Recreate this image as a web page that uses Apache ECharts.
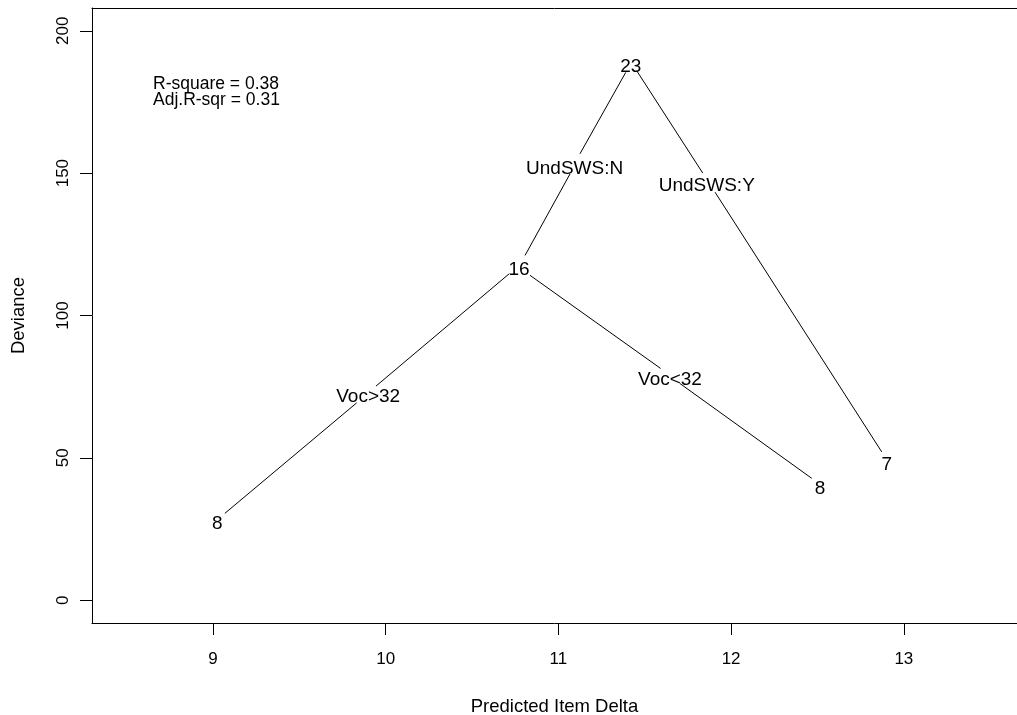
<!DOCTYPE html>
<html>
<head>
<meta charset="utf-8">
<script src="https://cdn.jsdelivr.net/npm/echarts@6/dist/echarts.min.js"></script>
<style>
html,body{margin:0;padding:0;background:#fff;}
#chart{width:1017px;height:715px;}
</style>
</head>
<body>
<div id="chart"></div>
<script>
// ---- data ----
const xTicks = [9, 10, 11, 12, 13];
const yTicks = [0, 50, 100, 150, 200];

// tree nodes (predicted delta, deviance, label = n)
const nodeX = [11.419, 10.772, 9.025, 12.515, 12.901];
const nodeY = [187.4, 116.1, 27.0, 39.3, 47.7];
const nodeLabels = ['23', '16', '8', '8', '7'];

// split labels
const splitX = [11.094, 11.859, 9.899, 11.646];
const splitY = [151.7, 145.4, 71.4, 77.5];
const splitLabels = ['UndSWS:N', 'UndSWS:Y', 'Voc>32', 'Voc<32'];

// edge segments (start x,y -> end x,y)
const segX1 = [11.390, 11.067, 11.453, 11.907, 10.716, 9.832, 10.836, 11.704];
const segY1 = [185.4, 149.7, 186.0, 143.3, 114.7, 69.3, 114.1, 76.1];
const segX2 = [11.125, 10.807, 11.836, 12.872, 9.944, 9.069, 11.592, 12.467];
const segY2 = [156.8, 121.1, 150.0, 52.1, 75.2, 30.5, 81.4, 42.8];

const annotation = ['R-square = 0.38', 'Adj.R-sqr = 0.31'];
const xTitle = 'Predicted Item Delta';
const yTitle = 'Deviance';

// ---- chart ----
const FONT = "'Liberation Sans', Arial, Helvetica, sans-serif";
const chart = echarts.init(document.getElementById('chart'), null, {renderer: 'canvas'});

const segData = segX1.map((x, i) => ({coords: [[x, segY1[i]], [segX2[i], segY2[i]]]}));
const nodeData = nodeX.map((x, i) => [x, nodeY[i], nodeLabels[i]]);
const splitData = splitX.map((x, i) => [x, splitY[i], splitLabels[i]]);

// text marks drawn through the cartesian scales
function renderText(params, api) {
  const pt = api.coord([api.value(0), api.value(1)]);
  return {
    type: 'text', x: pt[0], y: pt[1], silent: true,
    style: {text: api.value(2), fill: '#000', font: '19px ' + FONT, align: 'center', verticalAlign: 'middle'}
  };
}
const XMIN = 8.3, XMAX = 13.655;

chart.setOption({
  animation: false,
  backgroundColor: '#fff',
  grid: {left: 92, top: 8, right: 0, height: 615, show: false, containLabel: false, outerBoundsMode: 'none'},
  xAxis: [{
    type: 'value', min: XMIN, max: XMAX, position: 'bottom',
    name: xTitle, nameLocation: 'middle', nameGap: 74,
    nameTextStyle: {color: '#000', fontSize: 18.5, fontFamily: FONT},
    axisLine: {show: true, onZero: false, lineStyle: {color: '#000', width: 1}},
    axisTick: {show: true, inside: false, length: 12, lineStyle: {color: '#000'}, customValues: xTicks},
    axisLabel: {show: true, margin: 28, color: '#000', fontSize: 17, fontFamily: FONT, customValues: xTicks},
    splitLine: {show: false}
  }, {
    type: 'value', min: XMIN, max: XMAX, position: 'top',
    axisLine: {show: true, onZero: false, lineStyle: {color: '#000', width: 1}},
    axisTick: {show: false}, axisLabel: {show: false}, splitLine: {show: false}
  }],
  yAxis: {
    type: 'value', min: -8, max: 208,
    name: yTitle, nameLocation: 'middle', nameGap: 64,
    nameTextStyle: {color: '#000', fontSize: 18.5, fontFamily: FONT},
    axisLine: {show: true, onZero: false, lineStyle: {color: '#000', width: 1}},
    axisTick: {show: true, inside: false, length: 12, lineStyle: {color: '#000'}, customValues: yTicks},
    axisLabel: {show: true, margin: 20, rotate: 90, color: '#000', fontSize: 17, fontFamily: FONT, customValues: yTicks},
    splitLine: {show: false}
  },
  series: [
    {
      type: 'lines', coordinateSystem: 'cartesian2d', xAxisIndex: 0, polyline: false, silent: true,
      lineStyle: {color: '#000', width: 1, opacity: 1},
      data: segData
    },
    {
      type: 'custom', xAxisIndex: 0, silent: true, renderItem: renderText,
      encode: {x: 0, y: 1}, data: nodeData
    },
    {
      type: 'custom', xAxisIndex: 0, silent: true, renderItem: renderText,
      encode: {x: 0, y: 1}, data: splitData
    }
  ],
  graphic: [{
    type: 'text', left: 153, top: 75,
    style: {text: annotation.join('\n'), fill: '#000', font: '17.5px ' + FONT, lineHeight: 16}
  }]
});
</script>
</body>
</html>
